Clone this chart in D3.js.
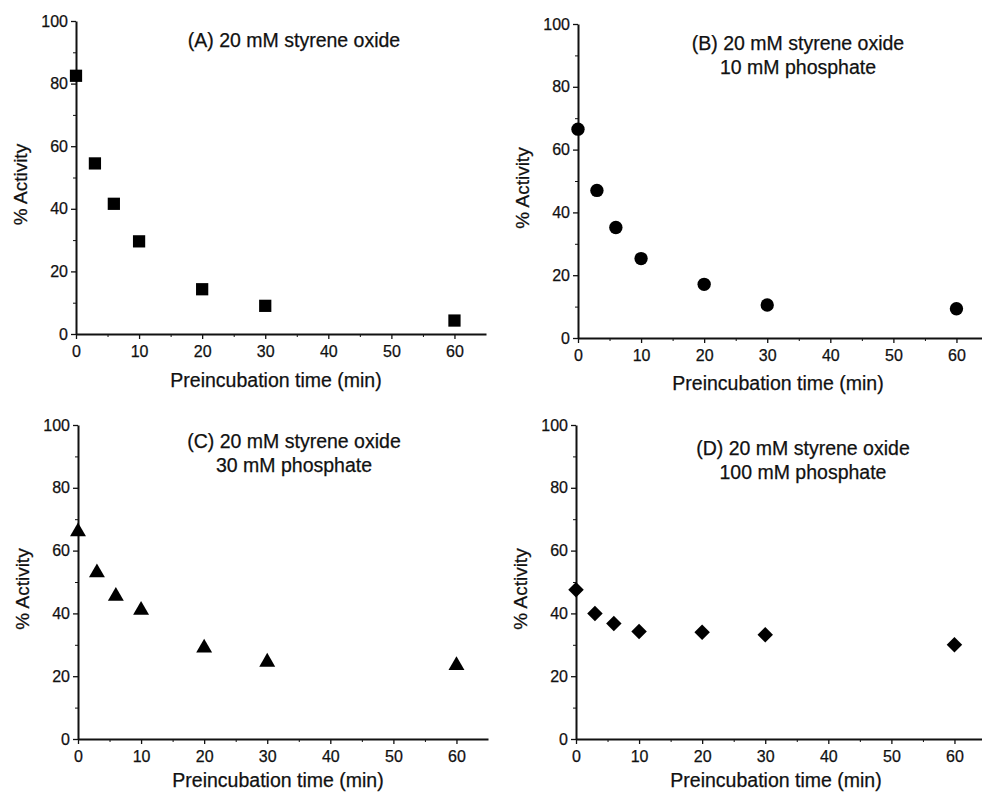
<!DOCTYPE html>
<html>
<head>
<meta charset="utf-8">
<script src="https://cdn.jsdelivr.net/npm/d3@7"></script>
<style>
  body { margin: 0; background: #fff; }
  svg text { font-family: "Liberation Sans", Arial, sans-serif; fill: #111; stroke: #111; stroke-width: 0.25; }
  .domain, .tick line { stroke: #111; }
</style>
</head>
<body>
<svg id="canvas" width="982" height="793"></svg>
<script>
let times = [0, 3, 6, 10, 20, 30, 60];

let activityA = [82.5, 54.5, 41.6, 29.6, 14.3, 9.0, 4.3];
let activityB = [66.5, 47.0, 35.2, 25.3, 17.1, 10.5, 9.3];
let activityC = [66.0, 53.0, 45.5, 41.0, 29.0, 24.5, 23.4];
let activityD = [47.5, 40.0, 36.8, 34.2, 34.0, 33.2, 30.0];

let titleA = ['(A) 20 mM styrene oxide'];
let titleB = ['(B) 20 mM styrene oxide', '10 mM phosphate'];
let titleC = ['(C) 20 mM styrene oxide', '30 mM phosphate'];
let titleD = ['(D) 20 mM styrene oxide', '100 mM phosphate'];

let xTicks = [0, 10, 20, 30, 40, 50, 60];
let yTicks = [0, 20, 40, 60, 80, 100];

let canvas = d3.select('#canvas');

// diamond = square turned by 45 degrees
let panels = [
	{ values: activityA, title: titleA, shape: d3.symbolSquare, size: 150, rot: 0, left: 76, top: 21, bottom: 334, tx: 294, ty: 47, gap: 53 },
	{ values: activityB, title: titleB, shape: d3.symbolCircle, size: 140, rot: 0, left: 578, top: 24, bottom: 338, tx: 798, ty: 50, gap: 52 },
	{ values: activityC, title: titleC, shape: d3.symbolTriangle, size: 110, rot: 0, left: 78, top: 425, bottom: 739, tx: 294, ty: 448, gap: 48 },
	{ values: activityD, title: titleD, shape: d3.symbolSquare, size: 120, rot: 45, left: 576, top: 425, bottom: 739, tx: 803, ty: 455, gap: 48 }
];

let drawPanel = (p) => {
	let width = 410;
	let x = d3.scaleLinear().domain([0, 65]).range([p.left, p.left + width]);
	let y = d3.scaleLinear().domain([0, 100]).range([p.bottom, p.top]);
	let g = canvas.append('g');

	// minor ticks first, then the labelled ones
	g.append('g')
		.attr('transform', `translate(0, ${p.bottom})`)
		.call(d3.axisBottom(x).tickValues(d3.range(5, 65, 10)).tickSize(3).tickFormat(''))
		.call((a) => a.select('.domain').remove());
	g.append('g')
		.attr('transform', `translate(${p.left}, 0)`)
		.call(d3.axisLeft(y).tickValues(d3.range(10, 100, 20)).tickSize(3).tickFormat(''))
		.call((a) => a.select('.domain').remove());

	let xAxis = g.append('g')
		.attr('transform', `translate(0, ${p.bottom})`)
		.call(d3.axisBottom(x).tickValues(xTicks).tickSize(5).tickSizeOuter(0).tickPadding(7));
	let yAxis = g.append('g')
		.attr('transform', `translate(${p.left}, 0)`)
		.call(d3.axisLeft(y).tickValues(yTicks).tickSize(5).tickSizeOuter(0).tickPadding(3));
	[xAxis, yAxis].forEach((a) => {
		a.select('.domain').attr('stroke-width', 2);
		a.selectAll('.tick line').attr('stroke-width', 1.3);
		a.selectAll('.tick text').attr('font-size', 16);
	});

	g.append('text')
		.attr('x', x(32.5) - 5)
		.attr('y', p.bottom + p.gap)
		.attr('text-anchor', 'middle')
		.attr('font-size', 19.5)
		.text('Preincubation time (min)');
	g.append('text')
		.attr('transform', `translate(${p.left - 49}, ${(p.top + p.bottom) / 2 + 7}) rotate(-90)`)
		.attr('text-anchor', 'middle')
		.attr('font-size', 19)
		.text('% Activity');

	g.append('text')
		.attr('text-anchor', 'middle')
		.attr('font-size', 19.5)
		.selectAll('tspan')
		.data(p.title)
		.enter()
		.append('tspan')
		.attr('x', p.tx)
		.attr('y', (d, i) => p.ty + i * 24)
		.text((d) => d);

	g.selectAll('path.point')
		.data(times)
		.enter()
		.append('path')
		.attr('class', 'point')
		.attr('d', d3.symbol().type(p.shape).size(p.size))
		.attr('fill', '#000')
		.attr('transform', (t, i) => `translate(${x(t)}, ${y(p.values[i])}) rotate(${p.rot})`);
};

panels.forEach(drawPanel);
</script>
</body>
</html>
